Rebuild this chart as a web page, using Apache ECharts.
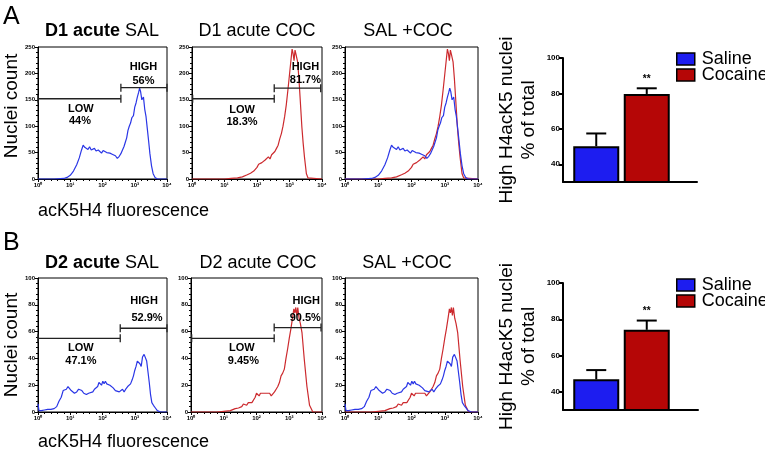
<!DOCTYPE html>
<html><head><meta charset="utf-8">
<script src="https://cdn.jsdelivr.net/npm/echarts@6/dist/echarts.min.js"></script>
<style>html,body{margin:0;padding:0;background:#fff}#c{width:765px;height:450px}</style>
</head><body><div id="c"></div>
<script>
// ---------- DATA ----------
// x values are log10(fluorescence) exponents, y values are nuclei counts
const xTickLabels = ['10⁰','10¹','10²','10³','10⁴'];

const salA = [[0,0],[0.5,0],[0.8,1],[0.9,3],[1.0,7],[1.1,15],[1.2,27],[1.28,40],[1.35,55],[1.4,64],[1.45,60],[1.5,62],[1.55,56],[1.6,61],[1.65,55],[1.7,52],[1.75,58],[1.8,53],[1.87,55],[1.93,52],[1.97,49],[2.02,54],[2.08,52],[2.13,50],[2.18,53],[2.23,49],[2.3,47],[2.36,46],[2.4,44],[2.46,39],[2.52,43],[2.57,48],[2.62,50],[2.67,62],[2.71,70],[2.75,78],[2.79,92],[2.83,100],[2.87,106],[2.91,116],[2.96,120],[3.0,136],[3.04,144],[3.08,155],[3.12,164],[3.15,172],[3.18,166],[3.22,150],[3.27,155],[3.31,132],[3.35,118],[3.39,95],[3.43,72],[3.47,48],[3.52,25],[3.57,10],[3.63,3],[3.7,0],[4.0,0]];

const cocA = [[0,0],[1.0,0],[1.2,1],[1.4,2],[1.55,4],[1.7,8],[1.8,11],[1.9,15],[2.0,22],[2.05,28],[2.1,26],[2.15,31],[2.2,30],[2.25,36],[2.3,33],[2.35,42],[2.4,38],[2.45,46],[2.5,44],[2.55,52],[2.6,58],[2.65,64],[2.7,76],[2.75,86],[2.8,100],[2.85,118],[2.9,140],[2.95,168],[3.0,198],[3.04,222],[3.08,246],[3.11,238],[3.14,224],[3.17,244],[3.2,236],[3.25,222],[3.29,190],[3.33,150],[3.38,99],[3.42,68],[3.46,42],[3.52,10],[3.57,2],[3.62,0],[4.0,0]];

const salB = [[0,6],[0.03,1],[0.1,1],[0.2,1.5],[0.3,2],[0.4,2],[0.5,2.5],[0.58,4],[0.65,8],[0.72,11],[0.78,16],[0.83,15],[0.88,17],[0.93,19],[0.98,19],[1.03,16],[1.08,17],[1.13,14],[1.2,15],[1.26,17],[1.31,18],[1.36,16],[1.42,14],[1.5,13],[1.57,14],[1.63,14],[1.7,15],[1.75,17],[1.8,16],[1.85,19],[1.89,22],[1.93,21],[1.97,20],[2.01,23],[2.05,21],[2.09,23],[2.13,21],[2.18,22],[2.23,20],[2.28,21],[2.33,18],[2.4,16],[2.46,16],[2.52,15],[2.57,16],[2.62,17],[2.67,15],[2.72,17],[2.78,19],[2.83,18],[2.87,21],[2.92,24],[2.96,27],[3.0,31],[3.04,34],[3.08,38],[3.12,39],[3.16,36],[3.2,34],[3.24,41],[3.29,43],[3.33,44],[3.37,38],[3.41,30],[3.45,22],[3.49,13],[3.53,7],[3.58,5],[3.64,3],[3.7,1],[3.8,0],[4.0,0]];

const cocB = [[0,0],[0.8,0],[1.0,0.5],[1.2,1],[1.35,2.5],[1.45,3],[1.55,4],[1.6,6],[1.65,5],[1.7,5],[1.75,7],[1.8,6],[1.86,7],[1.91,8],[1.96,11],[2.0,14],[2.04,13],[2.08,12],[2.12,14],[2.16,13],[2.2,14],[2.25,13],[2.3,14],[2.35,13],[2.4,14],[2.45,12],[2.5,13],[2.55,15],[2.6,17],[2.65,19],[2.7,22],[2.75,27],[2.8,29],[2.85,32],[2.9,40],[2.95,47],[3.0,55],[3.05,62],[3.1,70],[3.14,77],[3.17,74],[3.2,78],[3.23,72],[3.26,78],[3.3,70],[3.34,66],[3.39,59],[3.46,39],[3.54,19],[3.62,5],[3.72,0],[4.0,0]];

// gates: [from exponent, to exponent, count level]
const gatesA1 = [[0,2.57,152],[2.57,4.0,173]];
const gatesA2 = [[0.02,2.53,152],[2.53,3.96,172]];
const gatesB1 = [[0,2.55,55],[2.55,4.0,62.5]];
const gatesB2 = [[0.02,2.54,55],[2.54,3.97,63]];
// gate annotations: [exponent, count, text]
const notesA1 = [[3.27,212,'HIGH'],[3.27,186,'56%'],[1.33,133,'LOW'],[1.30,110,'44%']];
const notesA2 = [[3.49,212,'HIGH'],[3.49,187,'81.7%'],[1.54,131,'LOW'],[1.54,108,'18.3%']];
const notesB1 = [[3.29,83,'HIGH'],[3.38,70,'52.9%'],[1.33,48,'LOW'],[1.33,38,'47.1%']];
const notesB2 = [[3.52,83,'HIGH'],[3.49,70,'90.5%'],[1.55,48,'LOW'],[1.6,38,'9.45%']];

const groups = ['Saline','Cocaine'];
const meanA = [50.2, 79.7];
const errA = [7.2, 3.2];
const meanB = [46.9, 74.2];
const errB = [5.1, 5.1];
const sigA = ['', '**'];
const sigB = ['', '**'];
const barTicks = [40, 60, 80, 100];

// ---------- STYLE / LAYOUT ----------
const FONT = 'Liberation Sans, Arial, sans-serif';
const BLUE_LINE = '#2a36e6', RED_LINE = '#cc2a2e';
const BLUE_BAR = '#1d1df0', RED_BAR = '#b50606';

const grid = [], xAxis = [], yAxis = [], series = [], legend = [];

function hist(rect, ymax, yint, lines, gates, notes) {
  const gi = grid.length;
  grid.push({left: rect[0], top: rect[1], width: rect[2], height: rect[3], show: true, borderColor: '#000', borderWidth: 1});
  xAxis.push({gridIndex: gi, type: 'value', min: 0, max: 4, interval: 1,
    axisLine: {onZero: false, lineStyle: {color: '#000', width: 1}},
    axisTick: {length: 3, lineStyle: {color: '#000'}},
    minorTick: {show: true, splitNumber: 5, length: 2, lineStyle: {color: '#000'}},
    splitLine: {show: false},
    axisLabel: {formatter: v => xTickLabels[v], fontSize: 6, fontWeight: 'bold', color: '#000', margin: 3, fontFamily: FONT}});
  yAxis.push({gridIndex: gi, type: 'value', min: 0, max: ymax, interval: yint,
    axisLine: {lineStyle: {color: '#000', width: 1}},
    axisTick: {length: 3, lineStyle: {color: '#000'}},
    minorTick: {show: true, splitNumber: 5, length: 2, lineStyle: {color: '#000'}},
    splitLine: {show: false},
    axisLabel: {fontSize: 6, fontWeight: 'bold', color: '#000', margin: 3, fontFamily: FONT}});
  lines.forEach(l => series.push({type: 'line', xAxisIndex: gi, yAxisIndex: gi, data: l.data, showSymbol: false,
    symbol: 'none', lineStyle: {color: l.color, width: 1.2}, itemStyle: {color: l.color}, silent: true, animation: false, z: 3}));
  if (gates) {
    series.push({type: 'custom', xAxisIndex: gi, yAxisIndex: gi, data: gates, encode: {x: [0, 1], y: 2}, z: 4, animation: false,
      renderItem: (p, api) => {
        const a = api.coord([api.value(0), api.value(2)]);
        const b = api.coord([api.value(1), api.value(2)]);
        const st = {stroke: '#222', lineWidth: 1.3};
        return {type: 'group', children: [
          {type: 'line', shape: {x1: a[0], y1: a[1], x2: b[0], y2: b[1]}, style: st},
          {type: 'line', shape: {x1: a[0], y1: a[1] - 4, x2: a[0], y2: a[1] + 4}, style: st},
          {type: 'line', shape: {x1: b[0], y1: b[1] - 4, x2: b[0], y2: b[1] + 4}, style: st}]};
      }});
    series.push({type: 'custom', xAxisIndex: gi, yAxisIndex: gi, data: notes.map(n => [n[0], n[1]]), z: 5, animation: false,
      renderItem: (p, api) => {
        const pt = api.coord([api.value(0), api.value(1)]);
        return {type: 'text', x: pt[0], y: pt[1], style: {text: notes[p.dataIndex][2], font: 'bold 11px ' + FONT,
          fill: '#000', align: 'center', verticalAlign: 'middle'}};
      }});
  }
}

function bars(axRect, barRect, mean, err, sig, legTop) {
  // axis-only grid
  const ga = grid.length;
  grid.push({left: axRect[0], top: axRect[1], width: axRect[2], height: axRect[3]});
  xAxis.push({gridIndex: ga, type: 'value', min: 0, max: 1, axisLine: {onZero: false, lineStyle: {color: '#000', width: 2}},
    axisTick: {show: false}, axisLabel: {show: false}, splitLine: {show: false}});
  yAxis.push({gridIndex: ga, type: 'value', min: 30, max: 100,
    axisLine: {show: true, lineStyle: {color: '#000', width: 2}},
    axisTick: {show: true, customValues: barTicks, length: 4, lineStyle: {color: '#000', width: 2}},
    axisLabel: {customValues: barTicks, fontSize: 8, fontWeight: 'bold', color: '#000', margin: 3, fontFamily: FONT},
    splitLine: {show: false},
    name: 'High H4acK5 nuclei\n% of total', nameLocation: 'middle', nameRotate: 90, nameGap: 23,
    nameTextStyle: {fontSize: 19, lineHeight: 22, color: '#000', fontFamily: FONT}});
  // bar grid
  const gb = grid.length;
  grid.push({left: barRect[0], top: barRect[1], width: barRect[2], height: barRect[3]});
  xAxis.push({gridIndex: gb, type: 'category', data: groups, show: false});
  yAxis.push({gridIndex: gb, type: 'value', min: 30, max: 100, show: false});
  const cols = [BLUE_BAR, RED_BAR];
  groups.forEach((g, i) => {
    series.push({type: 'bar', name: g, xAxisIndex: gb, yAxisIndex: gb, barWidth: 46, barGap: '-100%',
      data: mean.map((m, j) => j === i ? m : '-'), animation: false,
      itemStyle: {color: cols[i], borderColor: '#000', borderWidth: 2}});
  });
  series.push({type: 'custom', xAxisIndex: gb, yAxisIndex: gb, z: 5, animation: false,
    data: mean.map((m, i) => [i, m, m + err[i]]),
    renderItem: (p, api) => {
      const a = api.coord([api.value(0), api.value(1)]);
      const b = api.coord([api.value(0), api.value(2)]);
      const st = {stroke: '#000', lineWidth: 2};
      const kids = [
        {type: 'line', shape: {x1: a[0], y1: a[1], x2: b[0], y2: b[1]}, style: st},
        {type: 'line', shape: {x1: b[0] - 10, y1: b[1], x2: b[0] + 10, y2: b[1]}, style: st}];
      if (sig[p.dataIndex]) kids.push({type: 'text', x: b[0], y: b[1] - 9, style: {text: sig[p.dataIndex],
        font: 'bold 10px ' + FONT, fill: '#000', align: 'center', verticalAlign: 'middle'}});
      return {type: 'group', children: kids};
    }});
  legend.push({data: groups, orient: 'vertical', left: 671, top: legTop, itemWidth: 18, itemHeight: 12, itemGap: -2,
    icon: 'rect', itemStyle: {borderColor: '#000', borderWidth: 1.5},
    textStyle: {fontSize: 18, color: '#000', fontFamily: FONT, lineHeight: 15, padding: [0, 0, 0, 2]}, selectedMode: false});
}

// Row A
hist([38, 47, 129, 132], 250, 50, [{data: salA, color: BLUE_LINE}], gatesA1, notesA1);
hist([192, 47, 130, 132], 250, 50, [{data: cocA, color: RED_LINE}], gatesA2, notesA2);
hist([345, 47, 133, 132], 250, 50, [{data: cocA, color: RED_LINE}, {data: salA, color: BLUE_LINE}]);
bars([563, 58, 134, 124], [571, 58, 101, 124], meanA, errA, sigA, 45);
// Row B
hist([38, 278, 129, 134], 100, 20, [{data: salB, color: BLUE_LINE}], gatesB1, notesB1);
hist([191, 278, 131, 134], 100, 20, [{data: cocB, color: RED_LINE}], gatesB2, notesB2);
hist([345, 278, 133, 134], 100, 20, [{data: cocB, color: RED_LINE}, {data: salB, color: BLUE_LINE}]);
bars([563, 283, 135, 127], [571, 283, 101, 127], meanB, errB, sigB, 271);

function txt(x, y, text, size, opts) {
  return Object.assign({type: 'text', x: x, y: y, style: Object.assign({text: text, font: size + 'px ' + FONT, fill: '#000',
    align: 'center', verticalAlign: 'middle', rich: {b: {fontWeight: 'bold', fontSize: size, fontFamily: FONT}}}, (opts && opts.style) || {})},
    (opts && opts.el) || {});
}
const graphics = [
  txt(3, 5, 'A', 25, {style: {align: 'left', verticalAlign: 'top'}}),
  txt(3, 231, 'B', 25, {style: {align: 'left', verticalAlign: 'top'}}),
  txt(102, 31, '{b|D1 acute} SAL', 18),
  txt(257, 31, 'D1 acute COC', 18),
  txt(408, 31, 'SAL +COC', 18),
  txt(102, 263, '{b|D2 acute} SAL', 18),
  txt(258, 263, 'D2 acute COC', 18),
  txt(407, 263, 'SAL +COC', 18),
  txt(12, 106, 'Nuclei count', 19, {el: {rotation: Math.PI / 2}}),
  txt(12, 345, 'Nuclei count', 19, {el: {rotation: Math.PI / 2}}),
  txt(38, 211, 'acK5H4 fluorescence', 18, {style: {align: 'left'}}),
  txt(38, 442, 'acK5H4 fluorescence', 18, {style: {align: 'left'}})
];

const chart = echarts.init(document.getElementById('c'), null, {renderer: 'canvas'});
chart.setOption({
  animation: false,
  backgroundColor: '#fff',
  textStyle: {fontFamily: FONT},
  grid, xAxis, yAxis, series, legend,
  graphic: graphics
});
</script></body></html>
